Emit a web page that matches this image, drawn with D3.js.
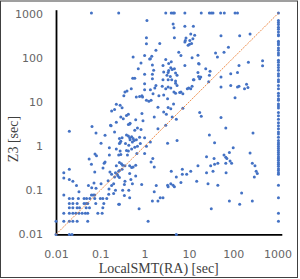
<!DOCTYPE html>
<html><head><meta charset="utf-8">
<script src="https://cdn.jsdelivr.net/npm/d3@7"></script>
<style>body{margin:0;background:#fff}</style>
</head><body><svg id="c" width="300" height="279"></svg>
<script>
const tickValues = [0.01, 0.1, 1, 10, 100, 1000];
const tickLabels = ["0.01", "0.1", "1", "10", "100", "1000"];
const xTitle = "LocalSMT(RA) [sec]";
const yTitle = "Z3 [sec]";
const timeout = 1050;
// Z3 timed out (top row): LocalSMT(RA) times
const timeoutTopX = [0.063, 0.26, 3.0, 4.0, 4.4, 4.7, 8.1, 19, 29, 32, 35, 52, 63, 110, 125];
// LocalSMT(RA) timed out (right column): Z3 times
const timeoutRightY = [1050,710,640,580,500,450,390,340,320,240,220,200,170,150,130,117,89,80,70,61,53,44,39,32,29,24,20,16,14,12,11,9.1,8.2,7.4,5.8,4.9,4.1,3.4,2.9,2.5,2.1,1.9,1.6,1.35,1.2,1.1,0.98,0.89,0.8,0.72,0.65,0.58,0.53,0.48,0.43,0.39,0.35,0.31,0.28,0.25,0.23,0.13,0.068,0.03,0.02];
// both solved: [LocalSMT(RA), Z3]
const upperA = [[1.13,710],[1.1,290],[1.1,210],[2.2,215],[1.8,150],[1.0,115],[1.45,110],[0.55,105],[1.3,95],[1.35,97],[3.0,93],[0.83,77],[1.5,70],[2.6,68],[0.72,57],[1.6,53],[1.0,43],[1.5,43],[2.7,48],[0.54,35],[0.6,35],[1.0,26],[1.5,34],[2.6,32],[3.2,41],[1.8,24],[2.5,23],[0.5,20],[0.4,18],[0.36,17],[1.0,19],[1.35,19],[1.7,21],[3.0,20],[0.34,14],[0.87,14],[0.65,13],[0.77,13.5],[0.9,13],[1.1,11],[1.25,10.5],[1.4,11],[2.7,14.5],[1.55,15.5],[2.1,14],[0.23,9],[0.28,8.5],[0.31,7.5],[0.21,6.8],[0.18,6.3],[0.39,5.0],[0.87,5.5],[2.0,7.7],[2.7,6.0],[3.1,5.3],[0.29,4.6],[0.33,4.2],[0.23,3.5],[0.43,5.3],[0.63,4.0],[0.92,3.8],[1.65,4.6],[0.46,3.2]];
const upperB = [[4.4,590],[4.6,490],[8.1,530],[12.6,530],[11,350],[13.5,330],[4.7,290],[8.6,285],[8.3,250],[8.1,230],[10.5,250],[11.5,215],[10.3,205],[9.6,195],[12.3,275],[5.9,135],[6.6,115],[11.8,102],[16,116],[40,130],[44,105],[62,135],[4.0,82],[3.5,75],[8.1,68],[16.5,75],[17,73],[3.9,60],[4.2,55],[3.5,52],[4.7,57],[3.4,47],[5.0,46],[5.4,41],[16,47],[24,57],[30,50],[16.5,38],[17.5,34],[18.5,37],[12.6,32],[13,32],[29,41],[28,29],[53,37],[3.4,22],[3.9,21],[5.0,27],[5.4,24],[9.2,20],[9.9,21],[11,20],[11.8,23],[6.6,17],[7.3,15.5],[4.6,17],[5.0,16],[6.2,16.5],[3.3,12],[3.4,7.6],[3.9,7.1],[7.3,7.3],[4.2,4.6],[5.2,4.1],[17.5,5.8],[19,4.8],[53,4.5],[53,22],[3.8,38],[4.1,32],[5.0,30],[3.4,32],[4.5,9.1],[53,320]];
const upperC = [[140,320],[240,350],[78,175],[220,80],[460,87],[460,67],[135,68],[88,44],[125,47],[88,24],[125,22],[135,23],[180,20],[200,25.5],[215,21.5],[110,12.5]];
const lowerA = [[0.17,3.0],[0.21,2.1],[0.43,3.1],[0.47,3.3],[0.6,2.3],[0.69,2.6],[0.83,2.4],[2.0,2.5],[3.0,3.0],[0.27,1.5],[0.31,1.55],[0.29,1.3],[0.39,1.8],[0.43,1.7],[0.46,1.55],[0.51,1.65],[0.55,1.5],[0.47,1.4],[0.53,1.25],[0.58,1.35],[0.65,1.4],[0.77,1.6],[1.0,1.55],[0.8,1.15],[0.28,1.2],[0.27,1.15],[0.37,1.15],[0.44,1.05],[0.6,0.95],[0.51,0.87],[0.69,1.0],[1.35,1.25],[1.1,1.0],[0.23,0.87],[0.28,0.78],[0.43,0.78],[0.39,0.8],[0.26,0.63],[0.29,0.65],[0.41,0.63],[0.67,0.68],[1.0,0.68],[0.16,0.63],[1.53,0.53],[0.27,0.43],[0.3,0.4],[0.32,0.37],[0.36,0.36],[0.46,0.36],[0.51,0.33],[0.55,0.34],[0.63,0.37],[1.4,0.44],[1.65,0.34],[0.23,0.36],[0.18,0.23],[0.22,0.25],[0.24,0.23],[0.25,0.21],[0.27,0.195],[0.21,0.2],[0.26,0.27],[0.27,0.28],[0.31,0.3],[0.46,0.24],[0.63,0.21],[0.49,0.175],[0.36,0.16],[0.35,0.135],[0.53,0.14],[0.2,0.14],[0.18,0.128],[0.86,0.135],[3.3,0.13],[3.4,0.12],[0.22,0.1],[0.2,0.085],[0.32,0.1],[0.44,0.1],[0.35,0.076],[0.46,0.068],[1.65,0.093],[2.25,0.068],[2.6,0.068],[1.5,0.057],[2.0,0.057],[0.26,0.048],[0.27,0.048],[0.75,0.038],[1.2,0.02],[1.83,0.128]];
const lowerB = [[3.3,1.17],[5.4,1.35],[29,1.8],[38,1.2],[68,2.6],[25,0.58],[37,0.53],[68,0.56],[62,0.63],[31,0.36],[38,0.39],[45,0.41],[68,0.41],[69,0.25],[25,0.25],[35,0.27],[16,0.36],[11,0.27],[7.1,0.3],[7.1,0.23],[8.9,0.23],[4.0,0.27],[5.2,0.2],[3.9,0.14],[4.4,0.13],[4.7,0.12],[6.6,0.15],[15,0.16],[27,0.14],[45,0.13],[32,0.038],[5.2,0.01]];
const lowerC = [[280,2.0],[100,0.92],[82,0.72],[240,0.7],[72,0.53],[85,0.46],[92,0.41],[270,0.41],[310,0.36],[330,0.27],[350,0.24],[300,0.2],[155,0.087],[82,0.057],[140,0.048],[270,0.057]];
const fastA = [[0.02,2.2],[0.065,2.8],[0.08,2.0],[0.128,1.77],[0.175,2.9],[0.104,1.17],[0.16,0.92],[0.076,0.67],[0.082,0.61],[0.056,0.51],[0.063,0.39],[0.122,0.41],[0.128,0.44],[0.115,0.32],[0.075,0.26],[0.165,0.26],[0.02,0.3],[0.015,0.25],[0.015,0.19],[0.02,0.175],[0.024,0.16],[0.15,0.165],[0.072,0.146],[0.054,0.128],[0.064,0.115],[0.029,0.128],[0.104,0.14],[0.157,0.107],[0.08,0.111],[0.033,0.093],[0.155,0.081],[0.015,0.078]];
const fastGrid = [[0.063,0.078],[0.069,0.078],[0.075,0.078],
 [0.02,0.065],[0.024,0.065],[0.032,0.065],[0.043,0.065],[0.049,0.065],[0.058,0.065],[0.075,0.065],[0.1,0.065],[0.114,0.065],[0.14,0.065],
 [0.02,0.05],[0.024,0.05],[0.03,0.05],[0.043,0.05],[0.048,0.05],[0.052,0.05],[0.079,0.05],[0.12,0.05],
 [0.02,0.04],[0.024,0.04],[0.03,0.04],[0.034,0.04],[0.048,0.04],[0.057,0.04],[0.114,0.04],
 [0.015,0.03],[0.02,0.03],[0.024,0.03],[0.028,0.03],[0.033,0.03],[0.039,0.03],[0.046,0.03],[0.052,0.03],[0.088,0.03],[0.11,0.03],
 [0.01,0.02],[0.015,0.02],[0.02,0.02],[0.024,0.02],[0.03,0.02],[0.052,0.02],
 [0.01,0.01],[0.02,0.01],[0.023,0.01]];

const points = [].concat(
  timeoutTopX.map(v => [v, timeout]),
  timeoutRightY.map(v => [timeout, v]),
  upperA, upperB, upperC, lowerA, lowerB, lowerC, fastA, fastGrid);

const svg = d3.select("#c");
svg.append("rect").attr("x", 0.5).attr("y", 1).attr("width", 297).attr("height", 276.5)
  .attr("fill", "#fff").attr("stroke", "#404040").attr("stroke-width", 1);

const x = d3.scaleLog().domain([0.01, 1250]).range([56, 281.8]);
const y = d3.scaleLog().domain([0.01, 1250]).range([234.4, 9.7]);
const fmt = v => tickLabels[tickValues.indexOf(v)];

const gx = svg.append("g").attr("transform", "translate(0,234.4)")
  .call(d3.axisBottom(x).tickValues(tickValues).tickFormat(fmt).tickSize(0).tickSizeOuter(0).tickPadding(16));
const gy = svg.append("g").attr("transform", "translate(56,0)")
  .call(d3.axisLeft(y).tickValues(tickValues).tickFormat(fmt).tickSize(0).tickSizeOuter(0).tickPadding(13));
[gx, gy].forEach(g => {
  g.select(".domain").attr("stroke", "#000").attr("stroke-width", 1.8);
  g.selectAll("text").attr("font-family", "DejaVu Sans").attr("font-size", 11).attr("fill", "#666");
});

svg.append("g").selectAll("circle").data(points).join("circle")
  .attr("cx", d => x(d[0])).attr("cy", d => y(d[1])).attr("r", 1.5)
  .attr("fill", "#4472C4");

svg.append("line")
  .attr("x1", x(0.01)).attr("y1", y(0.01)).attr("x2", x(timeout)).attr("y2", y(timeout))
  .attr("stroke", "#ED7D31").attr("stroke-width", 1).attr("stroke-dasharray", "2,1").attr("opacity", 0.85);

svg.append("text").attr("x", 158.7).attr("y", 272.7).attr("text-anchor", "middle")
  .attr("font-family", "Liberation Serif").attr("font-size", 14).attr("fill", "#404040").text(xTitle);
svg.append("text").attr("transform", "translate(17.5,139) rotate(-90)").attr("text-anchor", "middle")
  .attr("font-family", "Liberation Serif").attr("font-size", 14).attr("fill", "#404040").text(yTitle);
</script></body></html>
